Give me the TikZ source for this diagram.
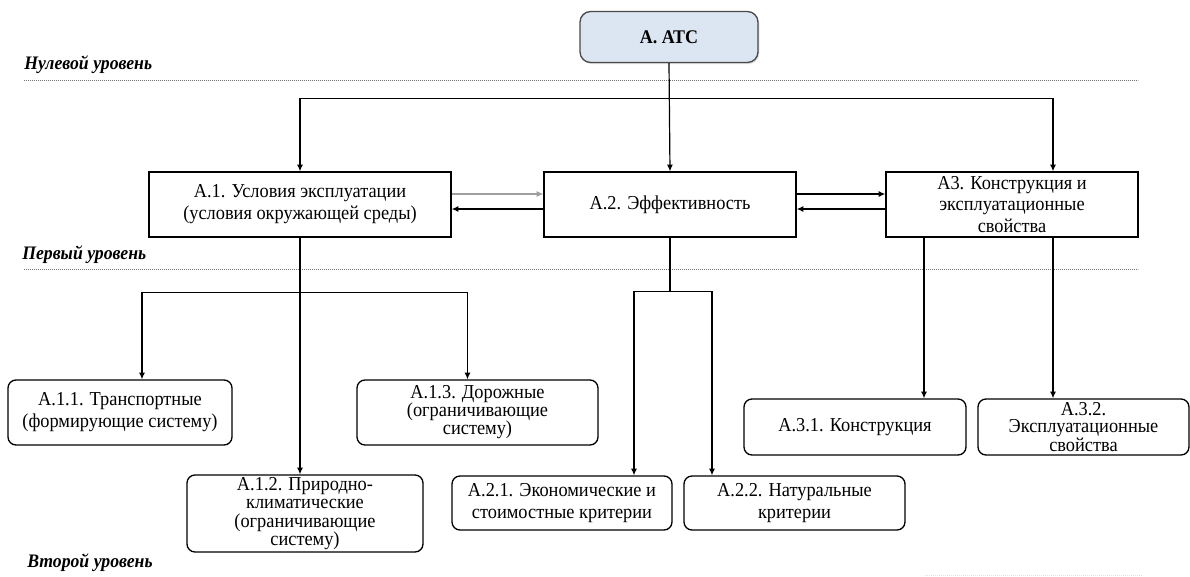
\documentclass[tikz,border=0pt]{standalone}
\usepackage{fontspec}
\setmainfont{Liberation Serif}[FakeStretch=0.93]
\usetikzlibrary{arrows.meta,calc,shadows}
\definecolor{topfill}{HTML}{DCE6F2}
\definecolor{topdraw}{HTML}{4A4A4A}
\begin{document}
\begin{tikzpicture}[x=0.75pt,y=-0.75pt,
  size/.style 2 args={minimum width=#1*0.75pt, minimum height=#2*0.75pt},
  lsp/.style={font=\fontsize{14.8}{#1}\selectfont},
  box/.style={draw=black, line width=1pt, align=center, inner sep=0pt, lsp=16.5pt},
  rbox/.style={box, rounded corners=6pt},
  topbox/.style={draw=topdraw, fill=topfill, line width=1pt, rounded corners=8pt,
    align=center, inner sep=0pt, font=\fontsize{14.5}{16}\selectfont\bfseries,
    drop shadow={opacity=0.25, shadow xshift=1pt, shadow yshift=-1.2pt}},
  lvl/.style={anchor=west, inner sep=0pt, font=\fontsize{14.3}{15}\selectfont\bfseries\itshape},
  sep/.style={draw=black!55, line width=0.6pt, dash pattern=on 0.6pt off 0.9pt},
  arr/.style={draw=black, line width=0.9pt, -{Latex[length=5pt,width=4.5pt]}},
  thinarr/.style={draw=gray!75, line width=0.8pt, -{Latex[length=5pt,width=4.5pt]}}]

\fill[white] (0,0) rectangle (1190,576);
\useasboundingbox (0,0) rectangle (1190,576);

% level captions and separators
\node[lvl] (l0) at (24,65) {Нулевой уровень};
\node[lvl] (l1) at (22,255) {Первый уровень};
\node[lvl] (l2) at (27,563) {Второй уровень};
\draw[sep] (24,80) coordinate (s0a) -- (1138,80) coordinate (s0b);
\draw[sep] (24,269) coordinate (s1a) -- (1138,269) coordinate (s1b);
\draw[draw=gray!25, line width=0.6pt, dash pattern=on 0.6pt off 0.9pt]
  (925,575) coordinate (s2a) -- (1142,575) coordinate (s2b);

% zero level
\node[topbox, size={178}{51}] (atc) at (669,37) {А. АТС};

% first level
\node[box, size={302}{65}] (a1) at (300,204.5)
  {А.1. Условия эксплуатации\\(условия окружающей среды)};
\node[box, size={252}{65}] (a2) at (670,204.5) {А.2. Эффективность};
\node[box, size={252}{65}, lsp=16pt] (a3) at (1012,204.5)
  {А3. Конструкция и\\эксплуатационные\\свойства};

% second level
\node[rbox, size={224}{65}] (a11) at (120,412.5)
  {А.1.1. Транспортные\\(формирующие систему)};
\node[rbox, size={236}{77}, lsp=13.7pt] (a12) at (305,513.5)
  {А.1.2. Природно-\\климатические\\(ограничивающие\\систему)};
\node[rbox, size={241}{65}, lsp=13.5pt] (a13) at (477.5,412.5)
  {А.1.3. Дорожные\\(ограничивающие\\систему)};
\node[rbox, size={220}{54}] (a21) at (562,503)
  {А.2.1. Экономические и\\стоимостные критерии};
\node[rbox, size={221}{54}] (a22) at (794.5,503)
  {А.2.2. Натуральные\\критерии};
\node[rbox, size={222}{56}] (a31) at (855,427) {А.3.1. Конструкция};
\node[rbox, size={211}{56}, lsp=13pt] (a32) at (1083.5,427)
  {А.3.2.\\Эксплуатационные\\свойства};

% connectors from the top node
\path (atc.south) ++(0,35) coordinate (j0);
\draw[arr] (atc.south) -- (a2.north);
\draw[arr] (j0) -| (a1.north);
\draw[arr] (j0) -| ($(a3.north)+(41,0)$);

% links between first-level blocks
\draw[thinarr] ($(a1.east)+(0,-10.5)$) -- ($(a2.west)+(0,-10.5)$);
\draw[arr] ($(a2.west)+(0,4.5)$) -- ($(a1.east)+(0,4.5)$);
\draw[arr] ($(a2.east)+(0,-10.5)$) -- ($(a3.west)+(0,-10.5)$);
\draw[arr] ($(a3.west)+(0,4.5)$) -- ($(a2.east)+(0,4.5)$);

% branches of А.1
\draw[arr] (a1.south) -- (a1.south |- a12.north);
\path (a1.south) ++(0,55) coordinate (j1);
\draw[arr] (j1) -| ($(a11.north)+(22,0)$);
\draw[arr] (j1) -| ($(a13.north)+(-10,0)$);

% branches of А.2
\path (a2.south) ++(0,54) coordinate (j2);
\draw[line width=0.9pt] (a2.south) -- (j2);
\draw[arr] (j2) -| ($(a21.north)+(72,0)$);
\draw[arr] (j2) -| ($(a22.north)+(-82.5,0)$);

% branches of А3
\coordinate (p31) at ($(a31.north)+(69,0)$);
\coordinate (p32) at ($(a32.north)+(-30.5,0)$);
\draw[arr] (p31 |- a3.south) -- (p31);
\draw[arr] (p32 |- a3.south) -- (p32);
\end{tikzpicture}
\end{document}
